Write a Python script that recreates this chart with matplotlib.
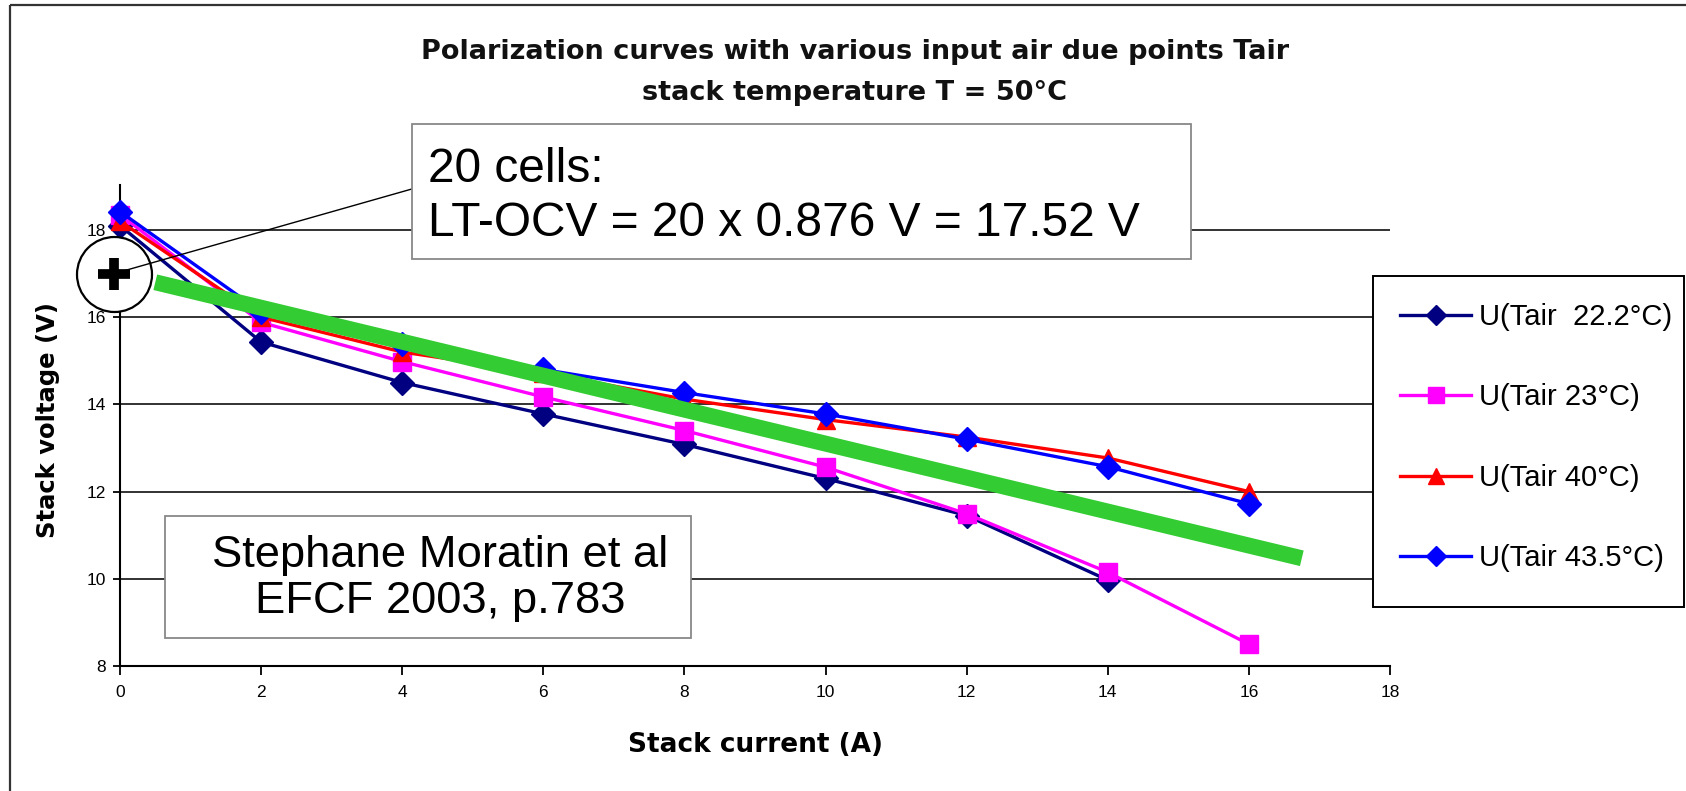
import matplotlib
matplotlib.use('Agg')
import matplotlib.pyplot as plt
from matplotlib.lines import Line2D
from matplotlib.patches import Rectangle

plt.rcParams['font.family'] = ['Liberation Sans', 'DejaVu Sans']

# data
current = [0, 2, 4, 6, 8, 10, 12, 14, 16]
u_tair_222 = [18.1, 15.43, 14.5, 13.78, 13.08, 12.3, 11.45, 9.97]
u_tair_23 = [18.35, 15.88, 14.98, 14.17, 13.4, 12.56, 11.49, 10.15, 8.5]
u_tair_40 = [18.2, 16.0, 15.2, 14.72, 14.12, 13.65, 13.25, 12.77, 12.0]
u_tair_435 = [18.42, 16.12, 15.38, 14.8, 14.27, 13.78, 13.2, 12.57, 11.72]
labels = ['U(Tair  22.2°C)', 'U(Tair 23°C)', 'U(Tair 40°C)', 'U(Tair 43.5°C)']

trend_x = [0.5, 16.75]
trend_y = [16.8, 10.47]
ocv_point = (-0.08, 17.0)
ocv_box_anchor = (4.14, 18.94)

W, H = 1686, 791
fig = plt.figure(figsize=(W / 100, H / 100), dpi=100)


def fx(px):
    return px / W


def fy(py):
    return 1 - py / H


# outer frame (top and left only visible)
fig.add_artist(Line2D([fx(10), 1.0], [fy(5), fy(5)], color='#333333', lw=1.6,
                      solid_capstyle='butt'))
fig.add_artist(Line2D([fx(10), fx(10)], [fy(5), 0.0], color='#333333', lw=1.6,
                      solid_capstyle='butt'))
# keep the right edge above the legend clean
fig.add_artist(Rectangle((fx(1676), fy(270)), fx(12), (270 - 7) / H,
                         facecolor='white', edgecolor='none', zorder=20))

ax = fig.add_axes([fx(120), fy(666), fx(1390 - 120), (666 - 185) / H])
ax.set_xlim(0, 18)
ax.set_ylim(8, 19.03)
ax.set_xticks(range(0, 19, 2))
ax.set_yticks(range(8, 19, 2))
ax.spines['top'].set_visible(False)
ax.spines['right'].set_visible(False)
for s in ('left', 'bottom'):
    ax.spines[s].set_linewidth(1.5)
ax.tick_params(axis='x', direction='out', length=6.5, width=1.3, pad=7, labelsize=12.5)
ax.tick_params(axis='y', direction='out', length=5, width=1.3, pad=5, labelsize=12.5)
ax.yaxis.grid(True, color='#222222', lw=1.3)
ax.set_axisbelow(True)

series = [
    (u_tair_222, '#000080', 'D', 12),
    (u_tair_23, '#FF00FF', 's', 13),
    (u_tair_40, '#FF0000', '^', 13),
    (u_tair_435, '#0000FF', 'D', 12),
]
for (vals, col, mk, ms), lab in zip(series, labels):
    ax.plot(current[:len(vals)], vals, color=col, lw=2.4, marker=mk, ms=ms,
            mec=col, mfc=col, label=lab, clip_on=False, zorder=3)

# trend line
ax.plot(trend_x, trend_y, color='#33CC33', lw=11.5, solid_capstyle='butt',
        zorder=4, clip_on=False)

# OCV marker with leader line
ax.plot(*ocv_point, marker='o', ms=54, mfc='white', mec='black', mew=1.6,
        clip_on=False, zorder=5)
ax.plot([ocv_point[0], ocv_box_anchor[0]], [ocv_point[1], ocv_box_anchor[1]],
        color='black', lw=1, clip_on=False, zorder=6)
ax.plot(*ocv_point, marker='+', ms=23, mec='black', mew=7, clip_on=False, zorder=7)

# legend frame drawn by hand so its right edge sits at the figure edge
ax.add_patch(Rectangle((fx(1373), fy(607)), fx(1684 - 1373), (607 - 276) / H,
                       transform=fig.transFigure, clip_on=False, zorder=9,
                       facecolor='white', edgecolor='black', lw=1.4))
leg = ax.legend(loc='upper left', bbox_to_anchor=(fx(1373), fy(276)),
                bbox_transform=fig.transFigure, fontsize=21, frameon=False,
                numpoints=1, handlelength=2.45, handletextpad=0.28,
                labelspacing=1.8, borderpad=0.92, borderaxespad=0, markerscale=0.85)
leg.set_zorder(10)

# annotation boxes
fig.add_artist(Rectangle((fx(412), fy(259)), fx(1191 - 412), (259 - 124) / H,
                         facecolor='white', edgecolor='#888888', lw=1.3))
fig.text(fx(428), fy(170), '20 cells:', fontsize=34.5, va='center', ha='left')
fig.text(fx(428), fy(223), 'LT-OCV = 20 x 0.876 V = 17.52 V', fontsize=34.5,
         va='center', ha='left')

fig.add_artist(Rectangle((fx(165), fy(638)), fx(691 - 165), (638 - 516) / H,
                         facecolor='white', edgecolor='#888888', lw=1.3))
fig.text(fx(440), fy(555), 'Stephane Moratin et al', fontsize=32.7, va='center', ha='center')
fig.text(fx(440), fy(602), 'EFCF 2003, p.783', fontsize=32.7, va='center', ha='center')

# titles and axis labels
bold = dict(family=['DejaVu Sans'], fontweight='bold', ha='center', va='center')
fig.text(fx(855), fy(52), 'Polarization curves with various input air due points Tair',
         fontsize=19.5, color='#111111', **bold)
fig.text(fx(855), fy(93), 'stack temperature T = 50°C',
         fontsize=19.5, color='#111111', **bold)
fig.text(fx(48), fy(420), 'Stack voltage (V)', fontsize=17.5, rotation=90, **bold)
fig.text(fx(755), fy(745), 'Stack current (A)', fontsize=19, **bold)

fig.savefig('out.png', dpi=100)
